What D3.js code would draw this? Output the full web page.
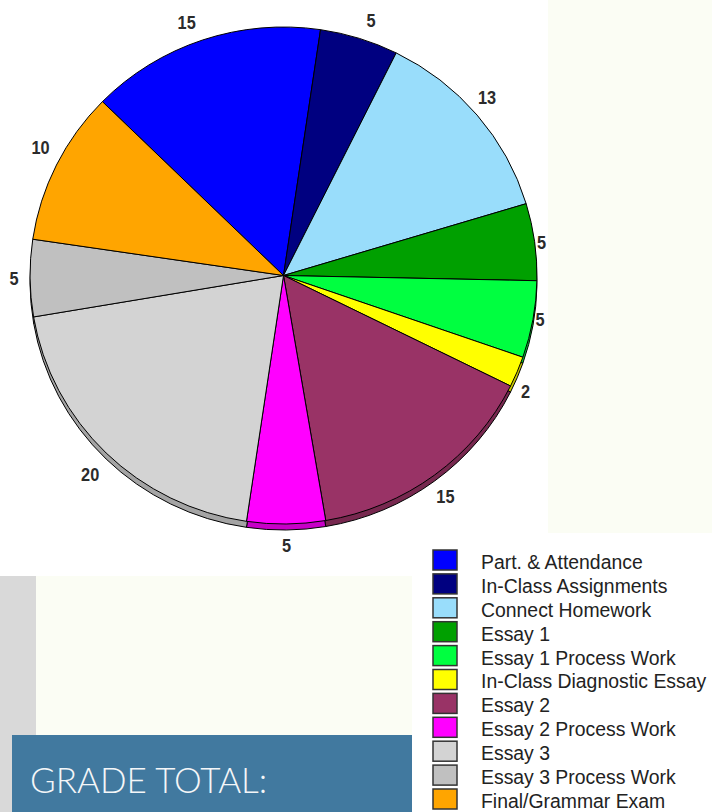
<!DOCTYPE html>
<html>
<head>
<meta charset="utf-8">
<script src="https://cdn.jsdelivr.net/npm/d3@7/dist/d3.min.js"></script>
<style>
  html, body { margin: 0; padding: 0; background: #ffffff; }
  svg { display: block; }
</style>
</head>
<body>
<svg id="chart" width="712" height="812"></svg>
<script>
// ---- data ----
const categories = [
  "Part. & Attendance",
  "In-Class Assignments",
  "Connect Homework",
  "Essay 1",
  "Essay 1 Process Work",
  "In-Class Diagnostic Essay",
  "Essay 2",
  "Essay 2 Process Work",
  "Essay 3",
  "Essay 3 Process Work",
  "Final/Grammar Exam"
];
const values = [15, 5, 13, 5, 5, 2, 15, 5, 20, 5, 10];
const palette = [
  "#0000ff", "#000080", "#99ddfb", "#00a000", "#00ff40", "#ffff00",
  "#993366", "#ff00ff", "#d3d3d3", "#c0c0c0", "#ffa500"
];
const footerText = "GRADE TOTAL:";

// ---- layout ----
const svg = d3.select("#chart");
const cx = 283.5, cy = 275.5, ry = 248.5, sx = 1.02, depth = 6;
const rx = ry * sx;

// backgrounds
svg.append("rect").attr("x", 0).attr("y", 576).attr("width", 36).attr("height", 236).attr("fill", "#d9d9d9");
svg.append("rect").attr("x", 36).attr("y", 576).attr("width", 376).attr("height", 159).attr("fill", "#fbfdf4");
svg.append("rect").attr("x", 12).attr("y", 735).attr("width", 400).attr("height", 77).attr("fill", "#41799f");
svg.append("text").attr("x", 30).attr("y", 793)
  .attr("font-family", "Lato, 'Open Sans', sans-serif").attr("font-weight", 300)
  .attr("font-size", 35).attr("fill", "#f4f6f8")
  .text(footerText);

const color = d3.scaleOrdinal().domain(categories).range(palette);

const startAng = -45.6 * Math.PI / 180;
const pie = d3.pie().sort(null).value(d => d.v)
  .startAngle(startAng).endAngle(startAng + 2 * Math.PI);
const pieData = categories.map((c, i) => ({ c, v: values[i] }));
const arcs = pie(pieData);
const arcGen = d3.arc().innerRadius(0).outerRadius(ry);

const chartG = svg.append("g");

// depth (lower face)
const lowFace = chartG.append("g").attr("transform", `translate(${cx},${cy + depth}) scale(${sx},1)`);
lowFace.selectAll("path").data(arcs).join("path")
  .attr("d", arcGen)
  .attr("fill", d => d3.color(color(d.data.c)).darker(0.7))
  .attr("stroke", "#000").attr("stroke-width", 1)
  .attr("vector-effect", "non-scaling-stroke");

// top face
const topFace = chartG.append("g").attr("transform", `translate(${cx},${cy}) scale(${sx},1)`);
topFace.selectAll("path").data(arcs).join("path")
  .attr("d", arcGen)
  .attr("fill", d => color(d.data.c))
  .attr("stroke", "#000").attr("stroke-width", 1)
  .attr("stroke-linejoin", "round")
  .attr("vector-effect", "non-scaling-stroke");

// value labels: placed just outside the rim, offset diagonally by quadrant
const clamp01 = v => Math.max(0, Math.min(1, v));
function labelPos(d) {
  const a = (d.startAngle + d.endAngle) / 2;
  const s = Math.sin(a), c = Math.cos(a);
  const ex = cx + rx * s, ey = cy - ry * c;
  const side = s >= 0 ? (6 + 6 * Math.abs(c)) : 16;
  const ox = side * Math.sign(s) * clamp01(Math.abs(s) / 0.25);
  const oy = (c > 0 ? -18 : 21) * clamp01((Math.abs(c) - 0.2) / 0.2);
  return [ex + ox, ey + oy];
}
chartG.selectAll("text.val").data(arcs).join("text")
  .attr("class", "val")
  .attr("transform", d => { const p = labelPos(d); return `translate(${p[0]},${p[1]}) scale(0.86,1)`; })
  .attr("dy", "0.36em")
  .attr("text-anchor", "middle")
  .attr("font-family", "'Liberation Sans Narrow', 'Arial Narrow', 'Liberation Sans', sans-serif")
  .attr("font-weight", "bold")
  .attr("font-size", 19)
  .attr("fill", "#2b2b2b")
  .text(d => d.data.v);

// cream panel on the right (the original chart image ends at x=548)
svg.append("rect").attr("x", 548).attr("y", 0).attr("width", 164).attr("height", 533).attr("fill", "#fbfdf4");

// legend
const legend = svg.append("g");
const rowH = 23.9, ly0 = 550;
const items = legend.selectAll("g").data(categories).join("g")
  .attr("transform", (d, i) => `translate(433,${ly0 + i * rowH})`);
items.append("rect").attr("x", 0).attr("y", 0).attr("width", 24).attr("height", 20)
  .attr("fill", d => color(d)).attr("stroke", "#333").attr("stroke-width", 1.5);
items.append("text").attr("x", 48).attr("y", 12).attr("dy", "0.36em")
  .attr("font-family", "'Liberation Sans', Arial, sans-serif")
  .attr("font-size", 19.4).attr("fill", "#222")
  .text(d => d);
</script>
</body>
</html>
